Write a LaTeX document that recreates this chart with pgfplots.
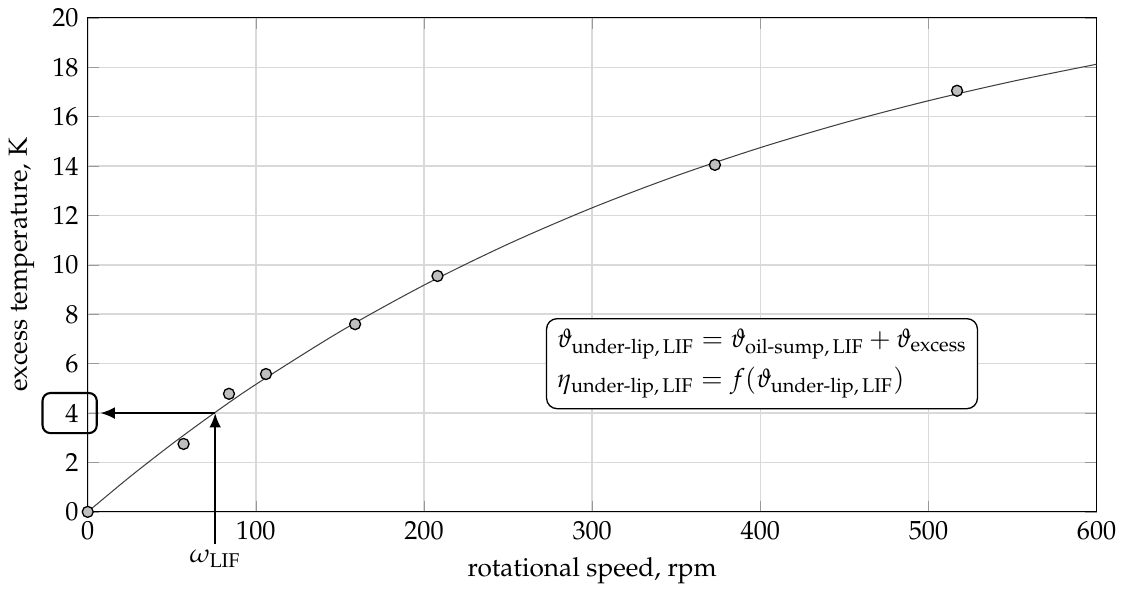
\documentclass[border=0pt]{standalone}
\usepackage[T1]{fontenc}
\usepackage{amsmath}
\usepackage{mathpazo}
\usepackage{pgfplots}
\pgfplotsset{compat=1.18}
\usetikzlibrary{arrows.meta}
\begin{document}
\begin{tikzpicture}
\begin{axis}[
  scale only axis,
  width=385pt, height=188.5pt,
  xmin=0, xmax=600, ymin=0, ymax=20,
  xtick={0,100,...,600}, ytick={0,2,...,20},
  grid=major,
  grid style={gray!30, line width=0.6pt},
  major tick style={gray!80},
  axis line style={black},
  xlabel={rotational speed, rpm},
  ylabel={excess temperature, K},
  clip=false,
]
% fitted curve
\addplot[smooth, line width=0.4pt, black!75] coordinates {
(0,0) (25,1.414) (50,2.741) (75,3.989) (100,5.161) (150,7.296) (200,9.180)
(250,10.842) (300,12.310) (350,13.605) (400,14.747) (450,15.756)
(500,16.646) (550,17.431) (600,18.124)};
% measured points
\addplot[only marks, mark=*, mark size=2.1pt, mark options={fill=black!25, draw=black, line width=0.5pt}] coordinates {
(0,0) (57,2.75) (84,4.78) (106,5.58) (159,7.6) (208,9.55) (373,14.05) (517,17.05)};
% arrows
\draw[-{Latex[length=5.5pt,width=4.5pt]}, line width=0.9pt] ([yshift=-12.3pt]axis cs:75.8,0) -- (axis cs:75.8,4);
\draw[-{Latex[length=5.5pt,width=4.5pt]}, line width=0.9pt] (axis cs:75.8,4) -- (axis cs:7.5,4);
\node[anchor=north, inner sep=2pt] at ([yshift=-12.3pt]axis cs:75.8,0) {$\omega_{\mathrm{LIF}}$};
\node[draw, rounded corners=3pt, line width=0.8pt, minimum width=20.7pt, minimum height=15.3pt] at ([xshift=-6.9pt]axis cs:0,4) {};
\node[draw, rounded corners=4pt, fill=white, align=left, line width=0.5pt, inner sep=4pt] at (axis cs:401,6)
{$\vartheta_{\text{under-lip},\,\mathrm{LIF}} = \vartheta_{\text{oil-sump},\,\mathrm{LIF}} + \vartheta_{\text{excess}}$\\[2pt]
$\eta_{\text{under-lip},\,\mathrm{LIF}} = f(\vartheta_{\text{under-lip},\,\mathrm{LIF}})$};
\end{axis}
\end{tikzpicture}
\end{document}
